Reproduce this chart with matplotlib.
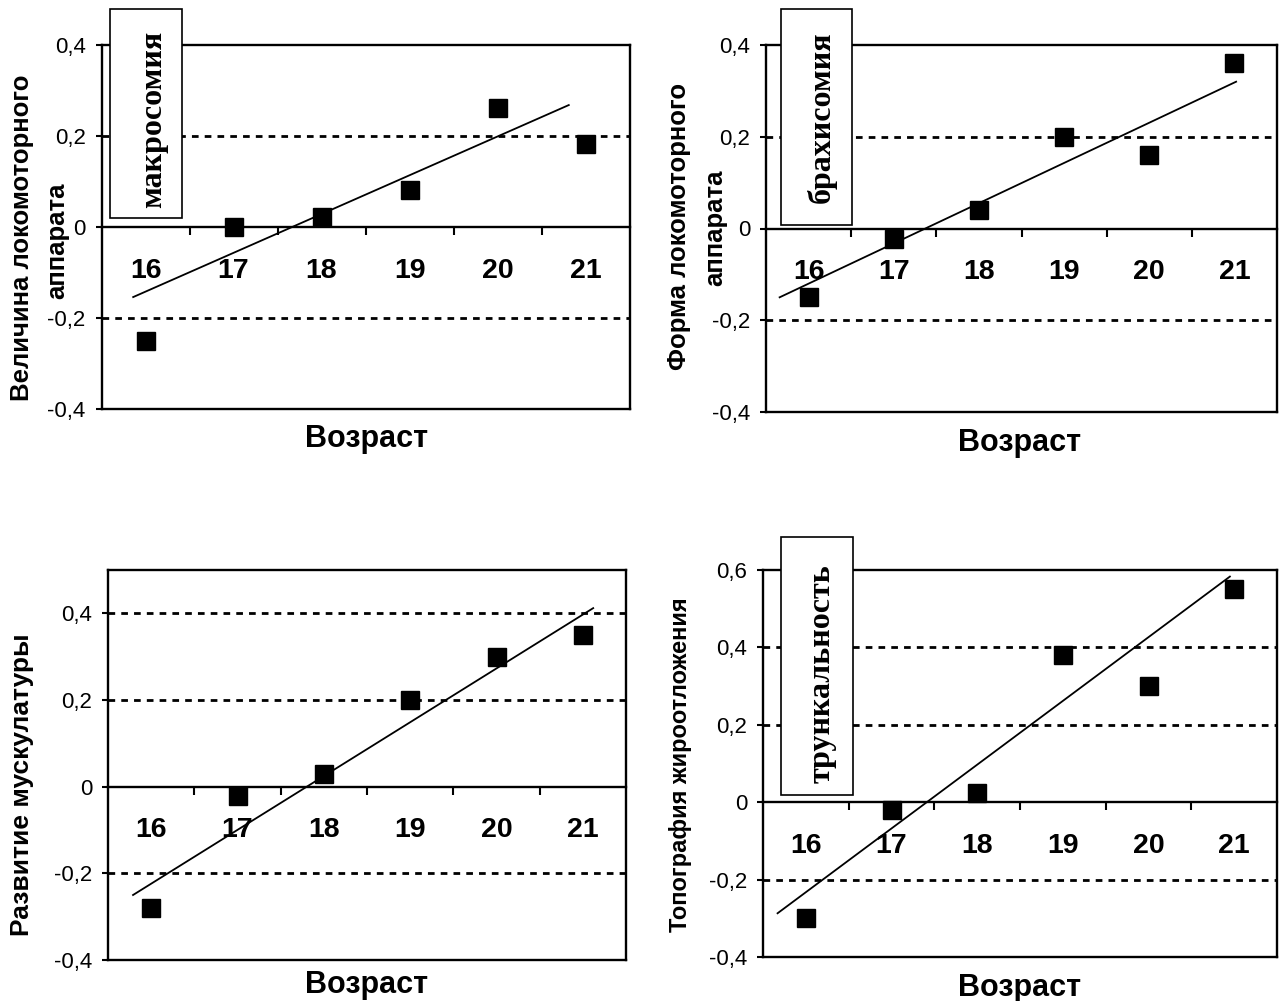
import numpy as np
import matplotlib
matplotlib.use('Agg')
import matplotlib.pyplot as plt
from matplotlib.patches import Rectangle
from matplotlib.ticker import FuncFormatter

plt.rcParams['font.family'] = ['Liberation Sans', 'DejaVu Sans']

# --- datos ---
vozrast = ['16', '17', '18', '19', '20', '21']

velichina = [-0.25, 0.0, 0.022, 0.081, 0.262, 0.182]
forma = [-0.15, -0.022, 0.041, 0.20, 0.16, 0.36]
muskulatura = [-0.28, -0.021, 0.03, 0.20, 0.30, 0.35]
topografia = [-0.30, -0.019, 0.023, 0.38, 0.30, 0.55]

# lineas de tendencia (indice de categoria, valor) en los extremos
trend_x_velichina = [-0.14, 4.81]
trend_y_velichina = [-0.154, 0.268]
trend_x_forma = [-0.34, 5.02]
trend_y_forma = [-0.15, 0.32]
trend_x_muskulatura = [-0.21, 5.12]
trend_y_muskulatura = [-0.25, 0.412]
trend_x_topografia = [-0.33, 4.95]
trend_y_topografia = [-0.287, 0.583]

W, H = 1288, 1001
fig = plt.figure(figsize=(W / 100, H / 100), dpi=100)


def fmt(v, pos):
    if abs(v) < 1e-9:
        return '0'
    return ('%.1f' % v).replace('.', ',')


def panel(rect_px, valores, tx, ty, ylim, ylabels, xlab_px, caja=None):
    x0, y0, x1, y1 = rect_px
    ax = fig.add_axes([x0 / W, 1 - y1 / H, (x1 - x0) / W, (y1 - y0) / H])
    x = np.arange(len(vozrast))
    ax.set_xlim(-0.5, len(vozrast) - 0.5)
    ax.set_ylim(ylim)

    yt = np.round(np.arange(ylim[0], ylim[1] + 1e-6, 0.2), 2)
    ax.set_yticks(yt)
    ax.yaxis.set_major_formatter(FuncFormatter(fmt))
    ax.tick_params(axis='y', length=4.5, width=1.5, pad=7, labelsize=16)

    # lineas punteadas
    for v in yt:
        if abs(v) > 1e-9 and ylim[0] + 1e-6 < v < ylim[1] - 1e-6:
            ax.axhline(v, color='black', lw=2.0, linestyle=(0, (2.4, 2.2)), zorder=1)

    for s in ['top', 'left', 'right']:
        ax.spines[s].set_linewidth(1.7)
    ax.spines['bottom'].set_position(('data', 0))
    ax.spines['bottom'].set_linewidth(1.7)
    ax.axhline(ylim[0], color='black', lw=1.7, clip_on=False, zorder=2)

    ax.set_xticks(x)
    ax.set_xticklabels(vozrast, fontsize=20.5, fontweight='bold')
    ax.set_xticks(x[:-1] + 0.5, minor=True)
    ax.tick_params(axis='x', which='major', length=0, pad=22)
    ax.tick_params(axis='x', which='minor', length=6, width=1.5, direction='out')

    ax.plot(tx, ty, color='black', lw=1.3, zorder=3)
    ax.plot(x, valores, 's', color='black', ms=13, zorder=4, clip_on=False)

    # titulo del eje y, una linea por texto
    for texto, lx, ly, size in ylabels:
        fig.text(lx / W, 1 - ly / H, texto, rotation=90, ha='center', va='center',
                 fontsize=size, fontweight='bold')
    fig.text(xlab_px[0] / W, 1 - xlab_px[1] / H, 'Возраст',
             ha='center', va='center', fontsize=22, fontweight='bold')

    if caja is not None:
        texto, bx0, by0, bx1, by1, cx, cy = caja
        fig.add_artist(Rectangle((bx0 / W, 1 - by1 / H), (bx1 - bx0) / W, (by1 - by0) / H,
                                 transform=fig.transFigure, facecolor='white',
                                 edgecolor='black', lw=1.2, zorder=5))
        fig.text(cx / W, 1 - cy / H, texto, rotation=90, ha='center', va='center',
                 family=['Liberation Serif', 'DejaVu Serif'], fontweight='bold',
                 fontsize=23, zorder=6)
    return ax


panel((101.5, 45, 629.5, 409), velichina, trend_x_velichina, trend_y_velichina,
      (-0.4, 0.4),
      [('Величина локомоторного', 22, 238, 18.5), ('аппарата', 57, 241, 18.5)],
      (367, 439), ('макросомия', 110, 9, 182, 218, 154, 119))

panel((766, 45, 1277, 412), forma, trend_x_forma, trend_y_forma,
      (-0.4, 0.4),
      [('Форма локомоторного', 679, 226, 18.5), ('аппарата', 715, 228, 18.5)],
      (1019.5, 443), ('брахисомия', 781, 9, 852, 225, 822, 117))

panel((108, 570, 626, 960), muskulatura, trend_x_muskulatura, trend_y_muskulatura,
      (-0.4, 0.5),
      [('Развитие мускулатуры', 22, 785, 19)],
      (367, 985))

panel((763, 570, 1277, 957), topografia, trend_x_topografia, trend_y_topografia,
      (-0.4, 0.6),
      [('Топография жироотложения', 680, 765, 17)],
      (1019.5, 988), ('трункальность', 781, 537, 853, 795, 822, 674))

fig.savefig('out.png', dpi=100)
